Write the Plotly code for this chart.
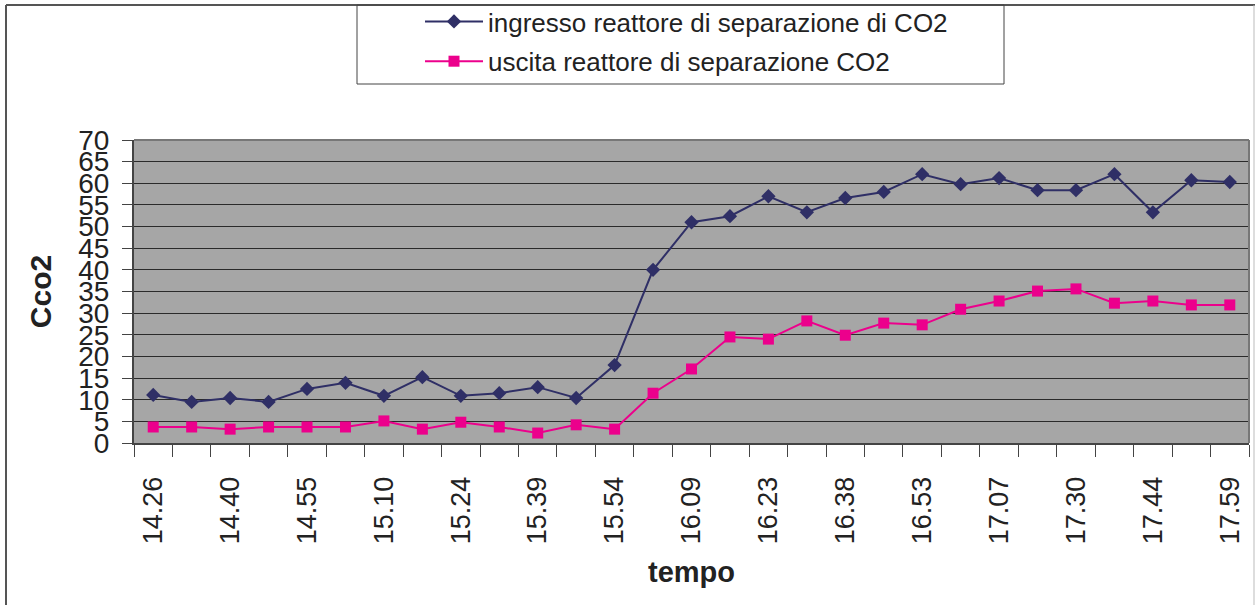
import plotly.graph_objects as go

# Category index (29 samples) and the tick labels shown on every other sample
sample_index = list(range(29))
tick_positions = [0, 2, 4, 6, 8, 10, 12, 14, 16, 18, 20, 22, 24, 26, 28]
tick_labels = ["14.26", "14.40", "14.55", "15.10", "15.24", "15.39", "15.54",
               "16.09", "16.23", "16.38", "16.53", "17.07", "17.30", "17.44", "17.59"]

ingresso = [11.1, 9.5, 10.4, 9.5, 12.5, 13.9, 10.9, 15.2, 10.9, 11.5, 12.9, 10.4, 18.0,
            40.0, 51.0, 52.4, 57.0, 53.3, 56.6, 58.0, 62.1, 59.8, 61.2, 58.4, 58.4,
            62.1, 53.3, 60.7, 60.3]
uscita = [3.7, 3.7, 3.2, 3.7, 3.7, 3.7, 5.1, 3.2, 4.8, 3.7, 2.3, 4.2, 3.2,
          11.5, 17.1, 24.5, 24.0, 28.2, 24.9, 27.7, 27.3, 30.9, 32.8, 35.1, 35.6,
          32.3, 32.8, 31.9, 31.9]

y_ticks = list(range(0, 75, 5))
boundaries = [i - 0.5 for i in range(30)]

FONT = "Liberation Sans, Arial, sans-serif"

fig = go.Figure()
fig.add_trace(go.Scatter(
    x=sample_index, y=ingresso, mode="lines+markers",
    name="ingresso reattore di separazione di CO2", legendgroup="a",
    line=dict(color="#2f2f66", width=2),
    marker=dict(symbol="diamond", size=11, color="#2f2f66"),
))
fig.add_trace(go.Scatter(
    x=sample_index, y=uscita, mode="lines+markers",
    name="uscita reattore di separazione CO2", legendgroup="b",
    line=dict(color="#ec008c", width=2),
    marker=dict(symbol="square", size=11, color="#ec008c"),
))

W, H = 1256, 605
L, R, T, B = 134, 7, 140, 162
pw, ph = W - L - R, H - T - B

def px(x):
    return (x - L) / pw

def py(y):
    return (H - B - y) / ph

fig.update_layout(
    width=W, height=H,
    margin=dict(l=L, r=R, t=T, b=B, pad=0, autoexpand=False),
    paper_bgcolor="white",
    plot_bgcolor="#a6a6a6",
    font=dict(family=FONT, color="#222222"),
    showlegend=True,
    legend=dict(
        x=px(420), y=py(-2), xanchor="left", yanchor="top",
        borderwidth=0, bgcolor="rgba(0,0,0,0)",
        font=dict(size=26, family=FONT, color="#222222"),
        tracegroupgap=3, itemwidth=58,
    ),
    xaxis=dict(
        range=[-0.5, 28.5],
        tickmode="array", tickvals=tick_positions, ticktext=tick_labels,
        tickangle=-90, tickfont=dict(size=27, family=FONT, color="#222222"),
        ticks="outside", ticklen=12, tickcolor="rgba(0,0,0,0)",
        ticklabelstandoff=9,
        minor=dict(tickmode="array", tickvals=boundaries, ticks="outside",
                   ticklen=12, tickcolor="#444444", tickwidth=1, showgrid=False),
        showgrid=False, zeroline=False,
        showline=True, linecolor="#444444", linewidth=2, mirror=False,
        title=dict(text="<b>tempo</b>", font=dict(size=29, family=FONT, color="#222222"),
                   standoff=18),
    ),
    yaxis=dict(
        range=[0, 70],
        tickmode="array", tickvals=y_ticks, ticktext=[str(v) for v in y_ticks],
        tickfont=dict(size=28, family=FONT, color="#222222"),
        ticks="outside", ticklen=10, tickcolor="#444444",
        ticklabelstandoff=7,
        showgrid=True, gridcolor="#2a2a2a", gridwidth=1,
        zeroline=False,
        showline=True, linecolor="#444444", linewidth=2,
        title=dict(text="<b>Cco2</b>", font=dict(size=30, family=FONT, color="#222222"),
                   standoff=18),
    ),
    shapes=[
        # plot-area top/right border
        dict(type="line", xref="paper", yref="paper", x0=0, x1=1, y0=1, y1=1,
             line=dict(color="#777777", width=2)),
        dict(type="line", xref="paper", yref="paper", x0=1, x1=1, y0=0, y1=1,
             line=dict(color="#777777", width=2)),
        # outer chart frame
        dict(type="line", xref="paper", yref="paper", x0=px(6), x1=px(1255),
             y0=py(5), y1=py(5), line=dict(color="#555555", width=2)),
        dict(type="line", xref="paper", yref="paper", x0=px(6), x1=px(6),
             y0=py(5), y1=py(H + 5), line=dict(color="#555555", width=2)),
        dict(type="line", xref="paper", yref="paper", x0=px(1254), x1=px(1254),
             y0=py(5), y1=py(H + 5), line=dict(color="#bbbbbb", width=1)),
        # legend box
        dict(type="rect", xref="paper", yref="paper", x0=px(357), x1=px(1004),
             y0=py(84), y1=py(5), line=dict(color="#444444", width=1)),
    ],
)

fig.write_html("out.html")
